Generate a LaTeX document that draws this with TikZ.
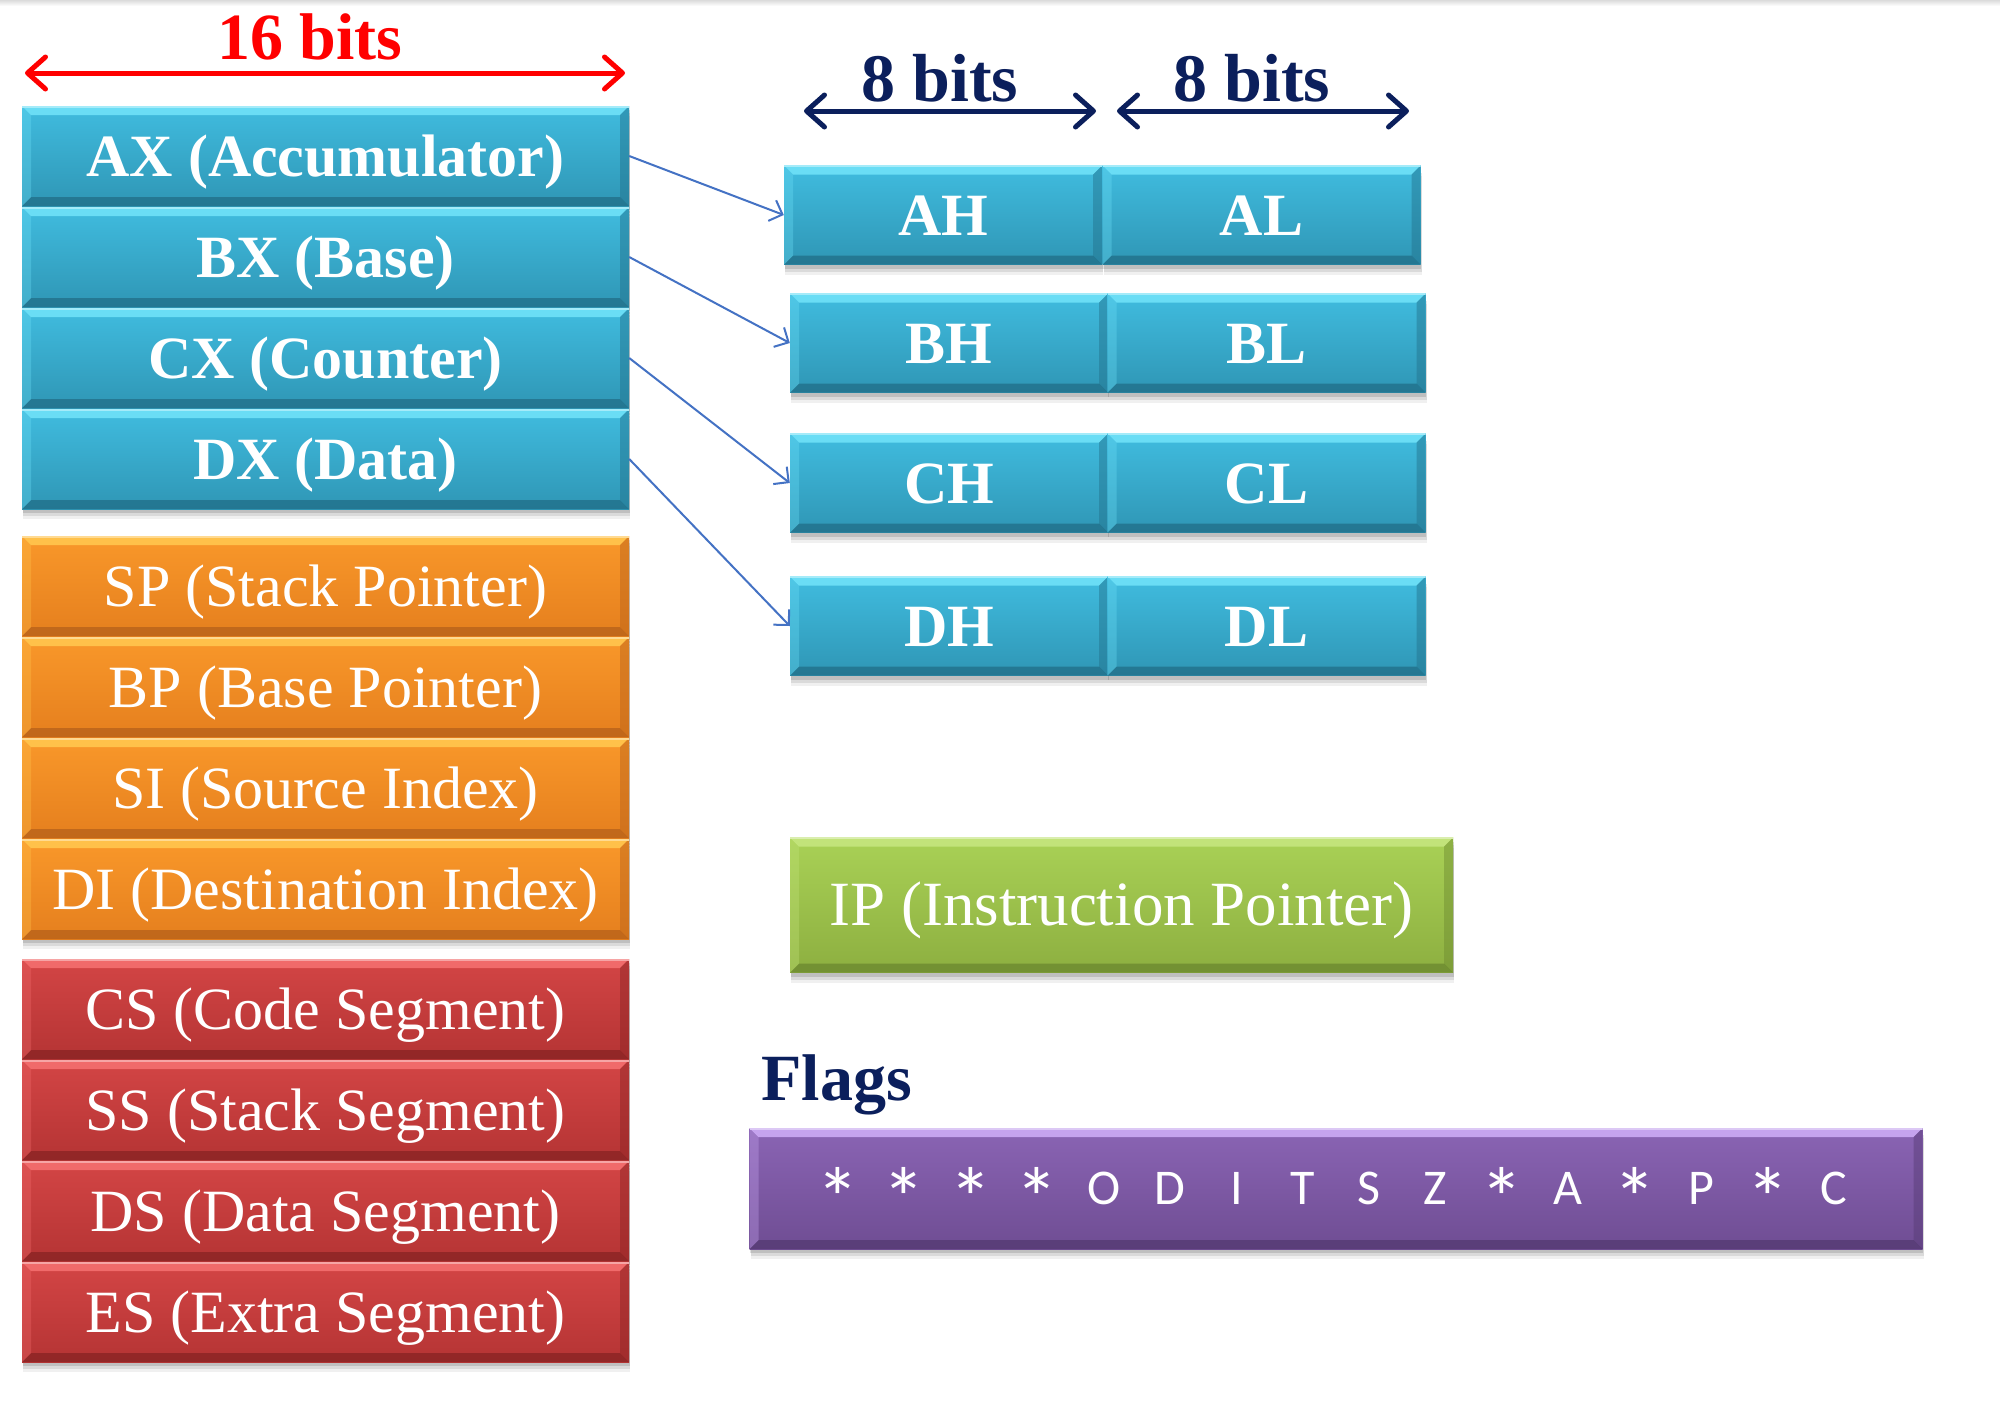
\documentclass[tikz,border=0pt]{standalone}
\usepackage{fontspec}
\setmainfont{Liberation Serif}
\newfontfamily\flagfont{Carlito}
\usetikzlibrary{arrows.meta,shadows}
\definecolor{bluetop}{HTML}{40BCDF}
\definecolor{bluebot}{HTML}{2F96B5}
\definecolor{bluelight}{HTML}{6ADDF5}
\definecolor{bluedark}{HTML}{22708A}
\definecolor{orgtop}{HTML}{F9982A}
\definecolor{orgbot}{HTML}{E57F1E}
\definecolor{orglight}{HTML}{FFC14A}
\definecolor{orgdark}{HTML}{B8621A}
\definecolor{redtop}{HTML}{D34545}
\definecolor{redbot}{HTML}{B53434}
\definecolor{redlight}{HTML}{F06A6A}
\definecolor{reddark}{HTML}{8A2424}
\definecolor{grntop}{HTML}{A9D156}
\definecolor{grnbot}{HTML}{8DAF40}
\definecolor{grnlight}{HTML}{C2E37A}
\definecolor{grndark}{HTML}{6D8A30}
\definecolor{purtop}{HTML}{8A64B4}
\definecolor{purbot}{HTML}{6F4D93}
\definecolor{purlight}{HTML}{C5A3EE}
\definecolor{purdark}{HTML}{553A73}
\definecolor{navy}{HTML}{0B1F5C}
\definecolor{conn}{HTML}{4472C4}
\newcommand\regbf{\fontsize{60}{72}\selectfont\bfseries}
\newcommand\regrm{\fontsize{60}{72}\selectfont}
\tikzset{
  bev/.style n args={4}{
    top color=#1, bottom color=#2, draw=none, inner sep=0pt,
    text=white, text height=40pt, text depth=0pt,
    drop shadow={shadow xshift=1pt, shadow yshift=-10pt, opacity=0.06, fill=black},
    drop shadow={shadow xshift=1pt, shadow yshift=-7pt, opacity=0.09, fill=black},
    drop shadow={shadow xshift=0.5pt, shadow yshift=-4pt, opacity=0.12, fill=black},
    path picture={
      \path (path picture bounding box.north west) coordinate (pNW)
            (path picture bounding box.north east) coordinate (pNE)
            (path picture bounding box.south west) coordinate (pSW)
            (path picture bounding box.south east) coordinate (pSE);
      \fill[#3] (pNW) -- (pNE) -- ([shift={(-9pt,-9pt)}]pNE) -- ([shift={(9pt,-9pt)}]pNW) -- cycle;
      \fill[#4,opacity=0.8] (pSW) -- (pSE) -- ([shift={(-9pt,9pt)}]pSE) -- ([shift={(9pt,9pt)}]pSW) -- cycle;
      \fill[#4,opacity=0.45] (pNE) -- (pSE) -- ([shift={(-9pt,9pt)}]pSE) -- ([shift={(-9pt,-9pt)}]pNE) -- cycle;
      \fill[#3,opacity=0.35] (pNW) -- (pSW) -- ([shift={(9pt,9pt)}]pSW) -- ([shift={(9pt,-9pt)}]pNW) -- cycle;
      \draw[#3!60!white, line width=3pt] (pNW) -- (pNE);
    }
  },
  bluebox/.style={bev={bluetop}{bluebot}{bluelight}{bluedark}},
  orgbox/.style={bev={orgtop}{orgbot}{orglight}{orgdark}},
  redbox/.style={bev={redtop}{redbot}{redlight}{reddark}},
  grnbox/.style={bev={grntop}{grnbot}{grnlight}{grndark}},
  purbox/.style={bev={purtop}{purbot}{purlight}{purdark}},
  colbox/.style={minimum width=607pt, minimum height=100pt},
  halfbox/.style={minimum width=318pt, minimum height=99pt, font=\regbf},
  conarrow/.style={conn, line width=2pt, -{Straight Barb[length=11pt,width=22pt]}},
  bitarrow/.style={line width=5pt, {Straight Barb[length=18pt,width=32pt,round]}-{Straight Barb[length=18pt,width=32pt,round]}}
}
\newcommand\fc[1]{\makebox[66.4pt][c]{#1}}
\newcommand\fstar{\makebox[66.4pt][c]{\raisebox{-24pt}{\fontsize{86}{86}\selectfont *}}}
\begin{document}
\begin{tikzpicture}[x=1pt,y=-1pt]
\useasboundingbox (0,0) rectangle (2000,1401);
\fill[white] (0,0) rectangle (2000,1401);
\shade[top color=black!14, bottom color=white] (0,0) rectangle (2000,6);

% 16 bits
\node[font=\fontsize{66}{70}\selectfont\bfseries, text=red, anchor=base] (t16) at (310,59) {16 bits};
\coordinate (a16l) at (25,73);
\coordinate (a16r) at (625,73);
\draw[bitarrow, red] (a16l) -- (a16r);

% general purpose registers
\node[bluebox, colbox, font=\regbf] (AX) at (325.5,156) {AX (Accumulator)};
\node[bluebox, colbox, font=\regbf] (BX) at (325.5,257) {BX (Base)};
\node[bluebox, colbox, font=\regbf] (CX) at (325.5,358) {CX (Counter)};
\node[bluebox, colbox, font=\regbf] (DX) at (325.5,459) {DX (Data)};

% pointer / index
\node[orgbox, colbox, font=\regrm] (SP) at (325.5,586) {SP (Stack Pointer)};
\node[orgbox, colbox, font=\regrm] (BP) at (325.5,687) {BP (Base Pointer)};
\node[orgbox, colbox, font=\regrm] (SI) at (325.5,788) {SI (Source Index)};
\node[orgbox, colbox, font=\regrm] (DI) at (325.5,889) {DI (Destination Index)};

% segments
\node[redbox, colbox, font=\regrm] (CS) at (325.5,1009) {CS (Code Segment)};
\node[redbox, colbox, font=\regrm] (SS) at (325.5,1110) {SS (Stack Segment)};
\node[redbox, colbox, font=\regrm] (DS) at (325.5,1211) {DS (Data Segment)};
\node[redbox, colbox, font=\regrm] (ES) at (325.5,1312) {ES (Extra Segment)};

% 8 bits labels
\coordinate (a8al) at (804,111);
\coordinate (a8ar) at (1096,111);
\coordinate (a8bl) at (1117,111);
\coordinate (a8br) at (1409,111);
\draw[bitarrow, navy] (a8al) -- (a8ar);
\draw[bitarrow, navy] (a8bl) -- (a8br);
\node[font=\fontsize{68}{70}\selectfont\bfseries, text=navy, anchor=base] (t8a) at (940,101) {8 bits};
\node[font=\fontsize{68}{70}\selectfont\bfseries, text=navy, anchor=base] (t8b) at (1252,101) {8 bits};

% high / low halves
\node[bluebox, halfbox] (AH) at (943,215) {AH};
\node[bluebox, halfbox] (AL) at (1261.5,215) {AL};
\node[bluebox, halfbox] (BH) at (949,343) {BH};
\node[bluebox, halfbox] (BL) at (1266.5,343) {BL};
\node[bluebox, halfbox] (CH) at (949,483) {CH};
\node[bluebox, halfbox] (CL) at (1266.5,483) {CL};
\node[bluebox, halfbox] (DH) at (949,626) {DH};
\node[bluebox, halfbox] (DL) at (1266.5,626) {DL};

% connectors
\draw[conarrow] (AX.east) -- (AH.west);
\draw[conarrow] (BX.east) -- (BH.west);
\draw[conarrow] (CX.east) -- (CH.west);
\draw[conarrow] (DX.east) -- (DH.west);

% instruction pointer
\node[grnbox, minimum width=663pt, minimum height=135pt, font=\fontsize{63}{70}\selectfont] (IP) at (1121.5,905) {IP (Instruction Pointer)};

% flags
\node[font=\fontsize{66}{70}\selectfont\bfseries, text=navy, anchor=base west] (flagsl) at (758,1100) {Flags};
\node[purbox, minimum width=1173pt, minimum height=121pt, text height=32pt, font=\flagfont\fontsize{50}{52}\selectfont] (FL) at (1336,1188.5)
  {\fstar\fstar\fstar\fstar\fc{O}\fc{D}\fc{I}\fc{T}\fc{S}\fc{Z}\fstar\fc{A}\fstar\fc{P}\fstar\fc{C}};
\end{tikzpicture}
\end{document}
